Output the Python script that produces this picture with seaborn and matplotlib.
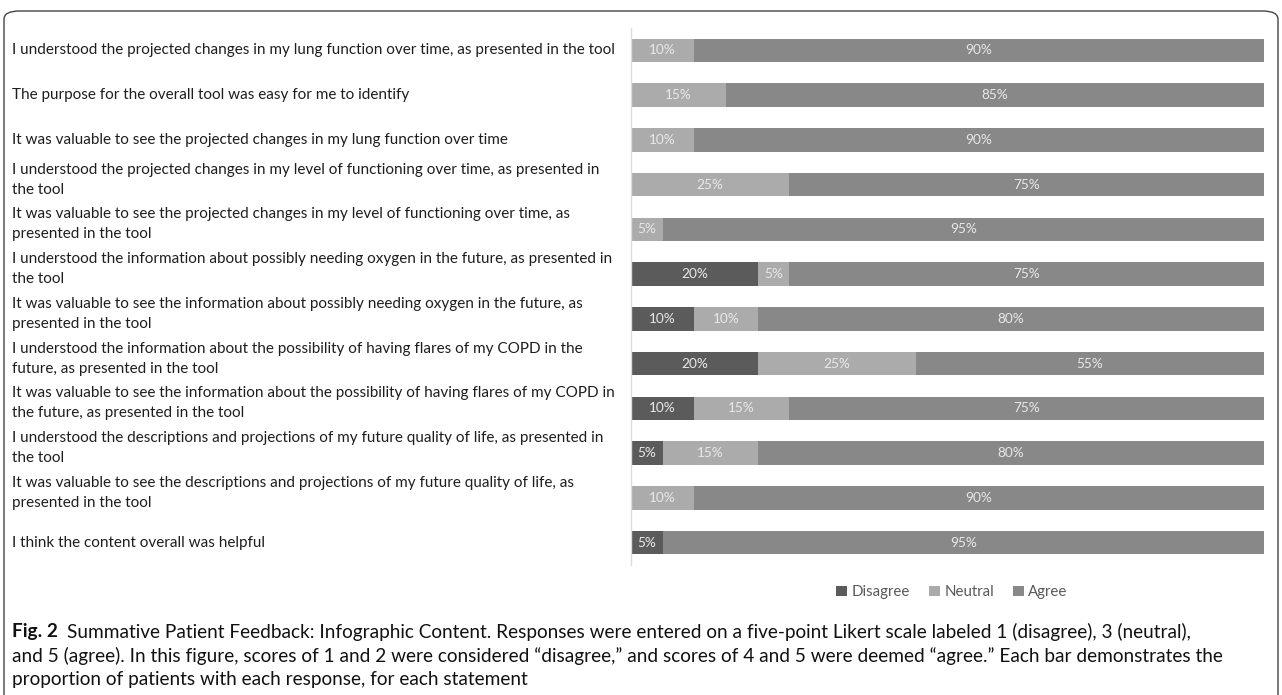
import matplotlib
matplotlib.use("Agg")
import matplotlib.pyplot as plt
import seaborn as sns
import pandas as pd
import numpy as np
from matplotlib.patches import FancyBboxPatch, Patch
import matplotlib.transforms as mtransforms

statements = [
    "I understood the projected changes in my lung function over time, as presented in the tool",
    "The purpose for the overall tool was easy for me to identify",
    "It was valuable to see the projected changes in my lung function over time",
    "I understood the projected changes in my level of functioning over time, as presented in\nthe tool",
    "It was valuable to see the projected changes in my level of functioning over time, as\npresented in the tool",
    "I understood the information about possibly needing oxygen in the future, as presented in\nthe tool",
    "It was valuable to see the information about possibly needing oxygen in the future, as\npresented in the tool",
    "I understood the information about the possibility of having flares of my COPD in the\nfuture, as presented in the tool",
    "It was valuable to see the information about the possibility of having flares of my COPD in\nthe future, as presented in the tool",
    "I understood the descriptions and projections of my future quality of life, as presented in\nthe tool",
    "It was valuable to see the descriptions and projections of my future quality of life, as\npresented in the tool",
    "I think the content overall was helpful",
]
disagree = [0, 0, 0, 0, 0, 20, 10, 20, 10, 5, 0, 5]
neutral = [10, 15, 10, 25, 5, 5, 10, 25, 15, 15, 10, 0]
agree = [90, 85, 90, 75, 95, 75, 80, 55, 75, 80, 90, 95]
series_names = ["Disagree", "Neutral", "Agree"]
colors = {"Disagree": "#5b5b5b", "Neutral": "#ababab", "Agree": "#888888"}

caption_bold = "Fig. 2"
caption_lines = [
    "Summative Patient Feedback: Infographic Content. Responses were entered on a five-point Likert scale labeled 1 (disagree), 3 (neutral),",
    "and 5 (agree). In this figure, scores of 1 and 2 were considered \u201cdisagree,\u201d and scores of 4 and 5 were deemed \u201cagree.\u201d Each bar demonstrates the",
    "proportion of patients with each response, for each statement",
]

sns.set_theme(style="white")
plt.rcParams["font.family"] = ["Lato", "DejaVu Sans"]

W, H = 1282, 695
fig = plt.figure(figsize=(W / 100, H / 100), dpi=100)
ax = fig.add_axes([631 / W, 1 - 565 / H, (1264 - 631) / W, (565 - 28) / H])

df = pd.DataFrame({"statement": statements, "Disagree": disagree,
                   "Neutral": neutral, "Agree": agree})
df["cum_d"] = df["Disagree"]
df["cum_n"] = df["Disagree"] + df["Neutral"]
df["cum_a"] = df["cum_n"] + df["Agree"]

for col, name in [("cum_a", "Agree"), ("cum_n", "Neutral"), ("cum_d", "Disagree")]:
    sns.barplot(data=df, x=col, y="statement", orient="h", color=colors[name],
                width=0.53, saturation=1, ax=ax, edgecolor="none")

# value labels
for i in range(len(statements)):
    starts = [0, disagree[i], disagree[i] + neutral[i]]
    vals = [disagree[i], neutral[i], agree[i]]
    for s, v in zip(starts, vals):
        if v > 0:
            ax.text(s + v / 2, i, f"{v}%", ha="center", va="center",
                    color="#e8e8e8", fontsize=9.8)

ax.set_xlim(0, 100)
ax.set_ylim(len(statements) - 0.5, -0.5)
ax.set_xlabel("")
ax.set_ylabel("")
ax.set_xticks([])
ax.set_yticks([])
for sp in ["top", "right", "bottom"]:
    ax.spines[sp].set_visible(False)
ax.spines["left"].set_color("#dcdcdc")
ax.spines["left"].set_linewidth(1.0)

fig.canvas.draw()
renderer = fig.canvas.get_renderer()

def fit_size(text, family, target_px, base=10.0, weight="normal"):
    t = fig.text(0, 0, text, fontsize=base, family=family, fontweight=weight)
    w = t.get_window_extent(renderer).width
    t.remove()
    return base * target_px / w

# left-aligned statement labels
lab_font = ["Lato", "DejaVu Sans"]
lab_size = fit_size(statements[0], lab_font, 605)
trans = mtransforms.blended_transform_factory(fig.transFigure, ax.transData)
for i, s in enumerate(statements):
    two = "\n" in s
    t = trans + mtransforms.ScaledTranslation(0, (5 if two else 0) / 100, fig.dpi_scale_trans)
    ax.text(12 / W, i, s, transform=t, ha="left", va="center",
            fontsize=lab_size, family=lab_font, color="#1e1e1e",
            linespacing=1.55, clip_on=False)

# legend
handles = [Patch(facecolor=colors[n], edgecolor="none") for n in series_names]
fig.legend(handles, series_names, loc="center", bbox_to_anchor=(952 / W, 1 - 592 / H),
           ncol=3, frameon=False, fontsize=10.8, handlelength=0.7, handleheight=0.7,
           handletextpad=0.3, columnspacing=1.3, labelcolor="#595959")

# caption
cap_font = ["Lato", "DejaVu Sans"]
cap_size = fit_size(caption_lines[1], cap_font, 1216)
tb = fig.text(12 / W, 1 - 632 / H, caption_bold, fontsize=cap_size, fontweight="bold",
              family=cap_font, va="center", ha="left", color="#111111")
bb = tb.get_window_extent(renderer)
fig.text((bb.x1 + 9) / W, 1 - 632 / H, caption_lines[0], fontsize=cap_size,
         family=cap_font, va="center", ha="left", color="#111111")
fig.text(12 / W, 1 - 656 / H, caption_lines[1], fontsize=cap_size,
         family=cap_font, va="center", ha="left", color="#111111")
fig.text(12 / W, 1 - 680 / H, caption_lines[2], fontsize=cap_size,
         family=cap_font, va="center", ha="left", color="#111111")

# rounded border
box = FancyBboxPatch((4 / W, -20 / H), (W - 8) / W, (H - 11 + 20) / H,
                     boxstyle="round,pad=0,rounding_size=0.012",
                     transform=fig.transFigure, fill=False,
                     edgecolor="#444444", linewidth=1.0, clip_on=False)
fig.patches.append(box)

fig.savefig("out.png", dpi=100)
